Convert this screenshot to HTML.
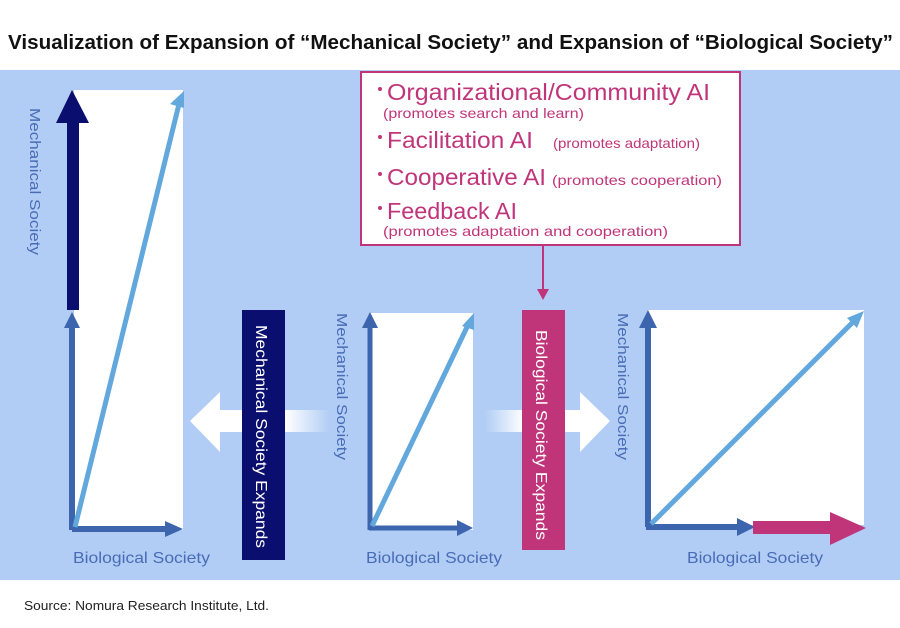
<!DOCTYPE html>
<html><head><meta charset="utf-8"><style>
html,body{margin:0;padding:0;background:#fff;}
svg{display:block;font-family:"Liberation Sans","Noto Sans CJK JP",sans-serif;}
</style></head><body>
<svg width="900" height="628" viewBox="0 0 900 628" xmlns="http://www.w3.org/2000/svg">
<defs>
<linearGradient id="fl" x1="0" x2="1" y1="0" y2="0"><stop offset="0.6" stop-color="#fff"/><stop offset="1" stop-color="#fff" stop-opacity="0"/></linearGradient>
<linearGradient id="fr" x1="0" x2="1" y1="0" y2="0"><stop offset="0" stop-color="#fff" stop-opacity="0"/><stop offset="0.4" stop-color="#fff"/></linearGradient>
</defs>
<text x="8" y="49" font-size="20" font-weight="bold" fill="#111" textLength="885" lengthAdjust="spacingAndGlyphs">Visualization of Expansion of “Mechanical Society” and Expansion of “Biological Society”</text>
<rect x="0" y="70" width="900" height="510" fill="#b1cdf5"/>

<rect x="218" y="410" width="112" height="22" fill="url(#fl)"/>
<polygon points="190,421 220,392 220,452" fill="#fff"/>
<rect x="485" y="410" width="97" height="22" fill="url(#fr)"/>
<polygon points="610,421 580,392 580,452" fill="#fff"/>

<rect x="74" y="90" width="109" height="440" fill="#fff"/>
<line x1="72" y1="530" x2="72" y2="325" stroke="#3d65ad" stroke-width="6"/>
<polygon points="72,312 64,328 80,328" fill="#3d65ad"/>
<line x1="72" y1="529" x2="168" y2="529" stroke="#3d65ad" stroke-width="6"/>
<polygon points="183,529 165,521 165,537" fill="#3d65ad"/>
<rect x="67" y="120" width="12" height="190" fill="#0a0e6e"/>
<polygon points="72,90 56,123 89,123" fill="#0a0e6e"/>
<line x1="75" y1="527" x2="180" y2="100" stroke="#62a8dc" stroke-width="5"/>
<polygon points="184,91 170,104 184,108" fill="#62a8dc"/>
<text transform="translate(30,108) rotate(90)" font-size="15" fill="#4a6cb6" textLength="147" lengthAdjust="spacingAndGlyphs">Mechanical Society</text>
<text x="73" y="563" font-size="16" fill="#4a6cb6" textLength="137" lengthAdjust="spacingAndGlyphs">Biological Society</text>

<rect x="242" y="310" width="43" height="250" fill="#0a0e6e"/>
<text transform="translate(256,325) rotate(90)" font-size="16" fill="#fff" textLength="223" lengthAdjust="spacingAndGlyphs">Mechanical Society Expands</text>

<rect x="370" y="313" width="103" height="217" fill="#fff"/>
<line x1="370" y1="530" x2="370" y2="325" stroke="#3d65ad" stroke-width="5"/>
<polygon points="370,312 362,328 378,328" fill="#3d65ad"/>
<line x1="369" y1="528" x2="458" y2="528" stroke="#3d65ad" stroke-width="5"/>
<polygon points="473,528 457,520 457,536" fill="#3d65ad"/>
<line x1="372" y1="526" x2="468" y2="325" stroke="#62a8dc" stroke-width="5"/>
<polygon points="474,313 462,326 474,330" fill="#62a8dc"/>
<text transform="translate(337,313) rotate(90)" font-size="15" fill="#4a6cb6" textLength="147" lengthAdjust="spacingAndGlyphs">Mechanical Society</text>
<text x="366" y="563" font-size="16" fill="#4a6cb6" textLength="136" lengthAdjust="spacingAndGlyphs">Biological Society</text>

<rect x="361" y="72" width="379" height="173" fill="#fff" stroke="#c0357a" stroke-width="2"/>
<line x1="543" y1="245" x2="543" y2="292" stroke="#c0357a" stroke-width="2"/>
<polygon points="543,300 537,289 549,289" fill="#c0357a"/>
<g fill="#c0357a">
<circle cx="380" cy="89" r="2"/>
<text x="387" y="100" font-size="23" textLength="323" lengthAdjust="spacingAndGlyphs">Organizational/Community AI</text>
<text x="383" y="118" font-size="14" textLength="201" lengthAdjust="spacingAndGlyphs">(promotes search and learn)</text>
<circle cx="380" cy="137" r="2"/>
<text x="387" y="148" font-size="23" textLength="146" lengthAdjust="spacingAndGlyphs">Facilitation AI</text>
<text x="553" y="148" font-size="14" textLength="147" lengthAdjust="spacingAndGlyphs">(promotes adaptation)</text>
<circle cx="380" cy="174" r="2"/>
<text x="387" y="185" font-size="23" textLength="159" lengthAdjust="spacingAndGlyphs">Cooperative AI</text>
<text x="552" y="185" font-size="14" textLength="170" lengthAdjust="spacingAndGlyphs">(promotes cooperation)</text>
<circle cx="380" cy="208" r="2"/>
<text x="387" y="219" font-size="23" textLength="130" lengthAdjust="spacingAndGlyphs">Feedback AI</text>
<text x="383" y="236" font-size="14" textLength="285" lengthAdjust="spacingAndGlyphs">(promotes adaptation and cooperation)</text>
</g>

<rect x="522" y="310" width="43" height="240" fill="#c0357a"/>
<text transform="translate(536,330) rotate(90)" font-size="16" fill="#fff" textLength="210" lengthAdjust="spacingAndGlyphs">Biological Society Expands</text>

<rect x="648" y="310" width="216" height="215" fill="#fff"/>
<line x1="648" y1="527" x2="648" y2="325" stroke="#3d65ad" stroke-width="6"/>
<polygon points="648,310 639,328 657,328" fill="#3d65ad"/>
<line x1="646" y1="527" x2="740" y2="527" stroke="#3d65ad" stroke-width="6"/>
<polygon points="755,527 737,518 737,536" fill="#3d65ad"/>
<rect x="753" y="521" width="80" height="13" fill="#c0357a"/>
<polygon points="866,528 830,512 830,545" fill="#c0357a"/>
<line x1="651" y1="524" x2="855" y2="320" stroke="#62a8dc" stroke-width="5"/>
<polygon points="864,311 847,318 857,328" fill="#62a8dc"/>
<text transform="translate(618,313) rotate(90)" font-size="15" fill="#4a6cb6" textLength="147" lengthAdjust="spacingAndGlyphs">Mechanical Society</text>
<text x="687" y="563" font-size="16" fill="#4a6cb6" textLength="136" lengthAdjust="spacingAndGlyphs">Biological Society</text>

<text x="24" y="610" font-size="12.5" fill="#222" textLength="245" lengthAdjust="spacingAndGlyphs">Source: Nomura Research Institute, Ltd.</text>
</svg>
</body></html>
